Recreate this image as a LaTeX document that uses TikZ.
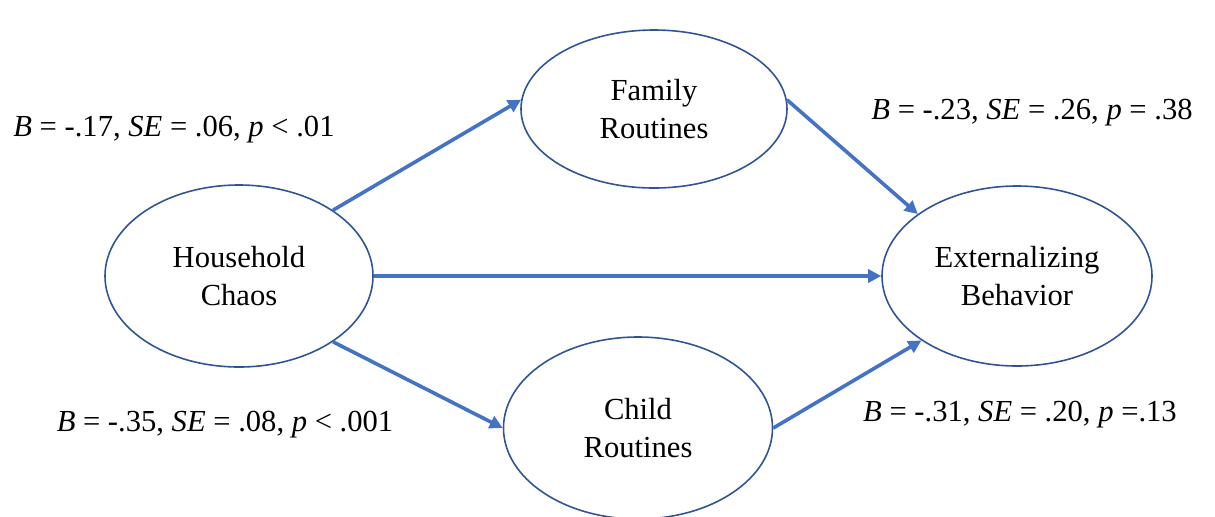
\documentclass[tikz,border=0pt]{standalone}
\usepackage{fontspec}
\setmainfont{Liberation Serif}
\usetikzlibrary{arrows.meta,shapes.geometric}
\definecolor{pathblue}{HTML}{4472C4}
\definecolor{rimblue}{HTML}{2F5597}
\tikzset{
  latent/.style={ellipse,draw=rimblue,line width=0.8pt,align=center,inner sep=0pt,font=\fontsize{15.3}{19}\selectfont},
  ar/.style={-{Triangle[length=6.5pt,width=6.5pt]},draw=pathblue,line width=1.8pt},
  est/.style={inner sep=0pt,font=\fontsize{15.3}{18}\selectfont},
}
\begin{document}
\begin{tikzpicture}[x=0.5pt,y=-0.5pt]
    \useasboundingbox (0,0) rectangle (1215,516);
    % constructs
    \node[latent,minimum width=134pt,minimum height=91pt] (chaos) at (239,276) {Household\\Chaos};
    \node[latent,minimum width=133pt,minimum height=79pt] (family) at (654,109) {Family\\Routines};
    \node[latent,minimum width=134.5pt,minimum height=91pt] (child) at (638,428) {Child\\Routines};
    \node[latent,minimum width=135pt,minimum height=90pt] (extern) at (1017,276) {Externalizing\\Behavior};
    % paths
    \draw[ar] (chaos.35) -- (family.176);
    \draw[ar] (family.4) -- (extern.148);
    \draw[ar] (chaos.east) -- (extern.west);
    \draw[ar] (chaos.-35) -- (child.180);
    \draw[ar] (child.east) -- (extern.214);
    % estimates
    \node[est] (estfam) at (174,130) {\textit{B} = -.17, \textit{SE} = .06, \textit{p} < .01};
    \node[est] (estfamout) at (1032,113) {\textit{B} = -.23, \textit{SE} = .26, \textit{p} = .38};
    \node[est] (estchild) at (225,425) {\textit{B} = -.35, \textit{SE} = .08, \textit{p} < .001};
    \node[est] (estchildout) at (1020,415) {\textit{B} = -.31, \textit{SE} = .20, \textit{p} =.13};
\end{tikzpicture}
\end{document}
